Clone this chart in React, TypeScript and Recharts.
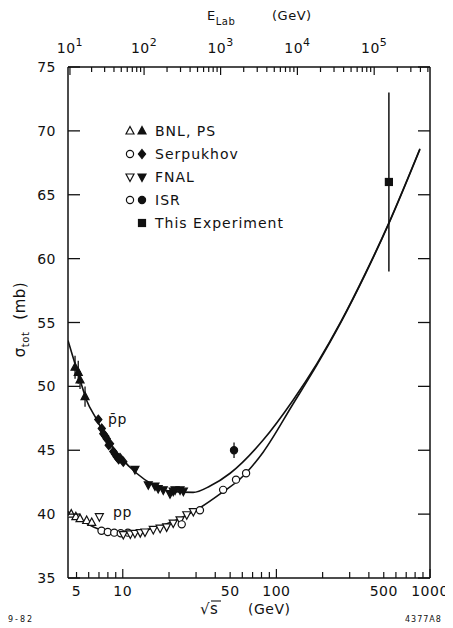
import React from "react";
import {
  ComposedChart,
  Line,
  Scatter,
  XAxis,
  YAxis,
  ErrorBar,
  Legend,
  Label,
} from "recharts";

const FONT = '"DejaVu Sans", "Liberation Sans", sans-serif';
const INK = "#111";
const M_P = 0.938272;

// sqrt(s) for a fixed-target beam of lab energy E (GeV)
const sqrtS = (eLab: number) => Math.sqrt(2 * M_P * (eLab + M_P));
const eLabOf = (rootS: number) => (rootS * rootS) / (2 * M_P) - M_P;

// ---- axes ----
const xDomain: [number, number] = [4.4, 1000];
const yDomain: [number, number] = [35, 75];
const yTicks = [35, 40, 45, 50, 55, 60, 65, 70, 75];
const bottomTicks = [
  5, 6, 7, 8, 9, 10, 20, 30, 40, 50, 60, 70, 80, 90, 100, 200, 300, 400, 500,
  600, 700, 800, 900, 1000,
];
const bottomLabels = [5, 10, 50, 100, 500, 1000];
const elabDecades = [10, 100, 1000, 10000, 100000];
const elabMantissas = [1, 2, 3, 4, 5, 6, 7, 8, 9];
const topTicks = elabDecades
  .flatMap((d) => elabMantissas.map((m) => m * d))
  .map(sqrtS)
  .filter((v) => v <= xDomain[1]);

// ---- fitted curves (sqrt s in GeV, sigma_tot in mb) ----
const pbarpFit = [
  { s: 4.4, sigma: 53.6 },
  { s: 5.27, sigma: 50.5 },
  { s: 5.82, sigma: 48.9 },
  { s: 6.77, sigma: 47.4 },
  { s: 7.86, sigma: 45.9 },
  { s: 9.6, sigma: 44.5 },
  { s: 12.3, sigma: 43.2 },
  { s: 15.7, sigma: 42.3 },
  { s: 20.3, sigma: 41.8 },
  { s: 28.7, sigma: 41.7 },
  { s: 37, sigma: 42.2 },
  { s: 50, sigma: 43.2 },
  { s: 82, sigma: 45.8 },
  { s: 128, sigma: 48.9 },
  { s: 184, sigma: 51.8 },
  { s: 264, sigma: 55.1 },
  { s: 378, sigma: 58.8 },
  { s: 540, sigma: 62.8 },
  { s: 860, sigma: 68.6 },
];

const ppFit = [
  { s: 4.4, sigma: 40.2 },
  { s: 7.11, sigma: 38.8 },
  { s: 10.6, sigma: 38.5 },
  { s: 15.7, sigma: 38.9 },
  { s: 22.4, sigma: 39.55 },
  { s: 31.8, sigma: 40.5 },
  { s: 45, sigma: 41.75 },
  { s: 58, sigma: 42.75 },
  { s: 82, sigma: 44.85 },
  { s: 128, sigma: 48.6 },
  { s: 184, sigma: 51.7 },
  { s: 264, sigma: 55.05 },
  { s: 378, sigma: 58.75 },
  { s: 540, sigma: 62.75 },
  { s: 860, sigma: 68.55 },
];

// ---- measurements ----
const bnlPbarP = [
  { s: 4.89, sigma: 51.5, err: 0.9 },
  { s: 5.13, sigma: 51.1, err: 0.9 },
  { s: 5.27, sigma: 50.5, err: 0.7 },
  { s: 5.68, sigma: 49.2, err: 0.8 },
];
const serpPbarP = [
  { s: 6.93, sigma: 47.4 },
  { s: 7.3, sigma: 46.7 },
  { s: 7.47, sigma: 46.3 },
  { s: 7.7, sigma: 46.1 },
  { s: 7.86, sigma: 45.9 },
  { s: 8.1, sigma: 45.4 },
  { s: 8.26, sigma: 45.5 },
  { s: 8.68, sigma: 44.9 },
  { s: 8.9, sigma: 44.7 },
  { s: 9.13, sigma: 44.5 },
  { s: 9.4, sigma: 44.3 },
  { s: 9.59, sigma: 44.4 },
  { s: 10.08, sigma: 44.1 },
];
const fnalPbarP = [
  { s: 12.0, sigma: 43.5 },
  { s: 14.66, sigma: 42.3 },
  { s: 16.2, sigma: 42.2 },
  { s: 17.0, sigma: 42.0 },
  { s: 18.35, sigma: 41.9 },
  { s: 20.3, sigma: 41.6 },
  { s: 21.3, sigma: 41.8 },
  { s: 21.9, sigma: 41.9 },
  { s: 23.6, sigma: 41.9 },
  { s: 24.8, sigma: 41.8 },
];
const isrPbarP = [{ s: 53, sigma: 45.0, err: 0.6 }];
const thisExperiment = [{ s: 540, sigma: 66.0, err: 7.0 }];

const bnlPP = [
  { s: 4.62, sigma: 40.0 },
  { s: 4.95, sigma: 39.8 },
  { s: 5.27, sigma: 39.65 },
  { s: 5.82, sigma: 39.5 },
  { s: 6.28, sigma: 39.35 },
];
const serpPP = [
  { s: 7.27, sigma: 38.7 },
  { s: 7.99, sigma: 38.6 },
  { s: 8.8, sigma: 38.55 },
  { s: 9.7, sigma: 38.5 },
  { s: 10.8, sigma: 38.55 },
];
const fnalPP = [
  { s: 7.04, sigma: 39.8 },
  { s: 10.08, sigma: 38.4 },
  { s: 11.2, sigma: 38.45 },
  { s: 12.0, sigma: 38.5 },
  { s: 13.0, sigma: 38.55 },
  { s: 13.95, sigma: 38.6 },
  { s: 15.8, sigma: 38.8 },
  { s: 17.5, sigma: 38.9 },
  { s: 19.3, sigma: 39.0 },
  { s: 21.3, sigma: 39.3 },
  { s: 23.6, sigma: 39.55 },
  { s: 26.1, sigma: 39.95 },
  { s: 28.8, sigma: 40.2 },
];
const isrPP = [
  { s: 24.2, sigma: 39.2 },
  { s: 31.8, sigma: 40.3 },
  { s: 45, sigma: 41.9 },
  { s: 54.6, sigma: 42.7 },
  { s: 63.5, sigma: 43.2 },
];

// ---- marker shapes ----
type Kind = "up" | "down" | "diamond" | "circle" | "square";
const drawMarker = (kind: Kind, filled: boolean, cx: number, cy: number) => {
  const st = {
    fill: filled ? INK : "#fff",
    stroke: INK,
    strokeWidth: 1.2,
  };
  switch (kind) {
    case "up":
      return (
        <polygon
          points={`${cx},${cy - 4.5} ${cx + 4},${cy + 3} ${cx - 4},${cy + 3}`}
          {...st}
        />
      );
    case "down":
      return (
        <polygon
          points={`${cx},${cy + 4.5} ${cx + 4},${cy - 3} ${cx - 4},${cy - 3}`}
          {...st}
        />
      );
    case "diamond":
      return (
        <polygon
          points={`${cx},${cy - 4.5} ${cx + 3.6},${cy} ${cx},${cy + 4.5} ${cx - 3.6},${cy}`}
          {...st}
        />
      );
    case "circle":
      return <circle cx={cx} cy={cy} r={3.6} {...st} />;
    case "square":
      return <rect x={cx - 3.5} y={cy - 3.5} width={7} height={7} {...st} />;
  }
};
const shape =
  (kind: Kind, filled: boolean) =>
  (p: { cx?: number; cy?: number }) =>
    <g>{drawMarker(kind, filled, p.cx ?? 0, p.cy ?? 0)}</g>;

// ---- legend ----
const legendRows: { open?: Kind; filled: Kind; text: string }[] = [
  { open: "up", filled: "up", text: "BNL, PS" },
  { open: "circle", filled: "diamond", text: "Serpukhov" },
  { open: "down", filled: "down", text: "FNAL" },
  { open: "circle", filled: "circle", text: "ISR" },
  { filled: "square", text: "This Experiment" },
];

const LegendBox = () => (
  <svg width={200} height={120} style={{ display: "block" }}>
    {legendRows.map((r, i) => {
      const cy = 12 + i * 23;
      return (
        <g key={r.text}>
          {r.open && drawMarker(r.open, false, 10, cy)}
          {drawMarker(r.filled, true, 22, cy)}
          <text
            x={35}
            y={cy + 5}
            fontSize={14}
            fontFamily={FONT}
            letterSpacing={1}
            fill={INK}
          >
            {r.text}
          </text>
        </g>
      );
    })}
  </svg>
);

// ---- ticks (drawn pointing into the frame) ----
const tickText = {
  fontSize: 14,
  fontFamily: FONT,
  fill: INK,
  letterSpacing: 0.5,
};

const LeftTick = (p: any) => {
  const { x, y, payload } = p;
  return (
    <g>
      <line x1={x} x2={x + 12} y1={y} y2={y} stroke={INK} strokeWidth={1.3} />
      <text x={x - 12} y={y + 5} textAnchor="end" {...tickText}>
        {payload.value}
      </text>
    </g>
  );
};

const RightTick = (p: any) => {
  const { x, y } = p;
  return <line x1={x} x2={x - 12} y1={y} y2={y} stroke={INK} strokeWidth={1.3} />;
};

const BottomTick = (p: any) => {
  const { x, y, payload } = p;
  const v = payload.value as number;
  const major = v === 10 || v === 100 || v === 1000;
  return (
    <g>
      <line x1={x} x2={x} y1={y} y2={y - (major ? 9 : 6)} stroke={INK} strokeWidth={1.2} />
      {bottomLabels.includes(v) && (
        <text x={x} y={y + 18} textAnchor="middle" {...tickText}>
          {v}
        </text>
      )}
    </g>
  );
};

const TopTick = (p: any) => {
  const { x, y, payload } = p;
  const e = eLabOf(payload.value as number);
  const exp = Math.log10(e);
  const major = Math.abs(exp - Math.round(exp)) < 0.01;
  return (
    <g>
      <line x1={x} x2={x} y1={y} y2={y + (major ? 8 : 5)} stroke={INK} strokeWidth={1.2} />
      {major && (
        <text x={x} y={y - 14} textAnchor="middle" {...tickText}>
          10
          <tspan fontSize={11} dy={-7}>
            {Math.round(exp)}
          </tspan>
        </text>
      )}
    </g>
  );
};

// ---- axis titles ----
const YTitle = (p: any) => {
  const vb = p.viewBox;
  const cx = vb.x + 17;
  const cy = vb.y + vb.height / 2 - 3;
  return (
    <text
      transform={`translate(${cx},${cy}) rotate(-90)`}
      textAnchor="middle"
      fontSize={15}
      fontFamily={FONT}
      fill={INK}
      letterSpacing={0.5}
    >
      σ
      <tspan fontSize={10} dy={4}>
        tot
      </tspan>
      <tspan dy={-4} dx={12}>
        (mb)
      </tspan>
    </text>
  );
};

const TopTitle = (p: any) => {
  const vb = p.viewBox;
  const x0 = vb.x + 139;
  const base = vb.y + 12;
  return (
    <g fontFamily={FONT} fill={INK} letterSpacing={0.5}>
      <text x={x0} y={base} fontSize={13}>
        E
        <tspan fontSize={10} dy={5}>
          Lab
        </tspan>
      </text>
      <text x={vb.x + 204} y={base} fontSize={13}>
        (GeV)
      </text>
    </g>
  );
};

const BottomTitle = (p: any) => {
  const vb = p.viewBox;
  const x0 = vb.x + 132;
  const base = vb.y + 36;
  return (
    <g fontFamily={FONT} fill={INK} letterSpacing={0.5}>
      <text x={x0} y={base} fontSize={15}>
        √s
      </text>
      <line x1={x0 + 11} x2={x0 + 21} y1={base - 13} y2={base - 13} stroke={INK} strokeWidth={1.1} />
      <text x={x0 + 48} y={base} fontSize={14}>
        (GeV)
      </text>
    </g>
  );
};

const axisLine = { stroke: INK, strokeWidth: 1.5 };

export default function App() {
  return (
    <div style={{ position: "relative", width: 445, height: 620, fontFamily: FONT }}>
      <ComposedChart
        width={445}
        height={612}
        margin={{ top: 0, right: 0, bottom: 0, left: 0 }}
      >
        <XAxis
          xAxisId="b"
          orientation="bottom"
          dataKey="s"
          type="number"
          scale="log"
          domain={xDomain}
          allowDataOverflow
          ticks={bottomTicks}
          interval={0}
          tick={<BottomTick />}
          tickLine={false}
          tickSize={0}
          tickMargin={0}
          axisLine={axisLine}
          height={42}
        >
          <Label content={<BottomTitle />} />
        </XAxis>
        <XAxis
          xAxisId="t"
          orientation="top"
          dataKey="s"
          type="number"
          scale="log"
          domain={xDomain}
          allowDataOverflow
          ticks={topTicks}
          interval={0}
          tick={<TopTick />}
          tickLine={false}
          tickSize={0}
          tickMargin={0}
          axisLine={axisLine}
          height={59}
        >
          <Label content={<TopTitle />} />
        </XAxis>
        <YAxis
          yAxisId="l"
          orientation="left"
          dataKey="sigma"
          type="number"
          domain={yDomain}
          allowDataOverflow
          ticks={yTicks}
          interval={0}
          tick={<LeftTick />}
          tickLine={false}
          tickSize={0}
          tickMargin={0}
          axisLine={axisLine}
          width={60}
        >
          <Label content={<YTitle />} />
        </YAxis>
        <YAxis
          yAxisId="r"
          orientation="right"
          dataKey="sigma"
          type="number"
          domain={yDomain}
          allowDataOverflow
          ticks={yTicks}
          interval={0}
          tick={<RightTick />}
          tickLine={false}
          tickSize={0}
          tickMargin={0}
          axisLine={axisLine}
          width={23}
        />

        <Line
          xAxisId="b"
          yAxisId="l"
          data={pbarpFit}
          dataKey="sigma"
          type="monotone"
          stroke={INK}
          strokeWidth={1.6}
          dot={false}
          isAnimationActive={false}
        />
        <Line
          xAxisId="b"
          yAxisId="l"
          data={ppFit}
          dataKey="sigma"
          type="monotone"
          stroke={INK}
          strokeWidth={1.6}
          dot={false}
          isAnimationActive={false}
        />

        <Scatter xAxisId="b" yAxisId="l" data={bnlPP} dataKey="sigma" shape={shape("up", false)} isAnimationActive={false} />
        <Scatter xAxisId="b" yAxisId="l" data={serpPP} dataKey="sigma" shape={shape("circle", false)} isAnimationActive={false} />
        <Scatter xAxisId="b" yAxisId="l" data={fnalPP} dataKey="sigma" shape={shape("down", false)} isAnimationActive={false} />
        <Scatter xAxisId="b" yAxisId="l" data={isrPP} dataKey="sigma" shape={shape("circle", false)} isAnimationActive={false} />

        <Scatter xAxisId="b" yAxisId="l" data={bnlPbarP} dataKey="sigma" shape={shape("up", true)} isAnimationActive={false}>
          <ErrorBar dataKey="err" direction="y" width={0} stroke={INK} strokeWidth={1.3} />
        </Scatter>
        <Scatter xAxisId="b" yAxisId="l" data={serpPbarP} dataKey="sigma" shape={shape("diamond", true)} isAnimationActive={false} />
        <Scatter xAxisId="b" yAxisId="l" data={fnalPbarP} dataKey="sigma" shape={shape("down", true)} isAnimationActive={false} />
        <Scatter xAxisId="b" yAxisId="l" data={isrPbarP} dataKey="sigma" shape={shape("circle", true)} isAnimationActive={false}>
          <ErrorBar dataKey="err" direction="y" width={0} stroke={INK} strokeWidth={1.3} />
        </Scatter>
        <Scatter xAxisId="b" yAxisId="l" data={thisExperiment} dataKey="sigma" shape={shape("square", true)} isAnimationActive={false}>
          <ErrorBar dataKey="err" direction="y" width={0} stroke={INK} strokeWidth={1.5} />
        </Scatter>

        <Legend
          layout="vertical"
          align="center"
          verticalAlign="middle"
          content={<LegendBox />}
          wrapperStyle={{ left: 112, top: 111, width: 200 }}
        />
      </ComposedChart>

      {/* curve labels */}
      <div style={{ position: "absolute", left: 0, top: 0, pointerEvents: "none" }}>
        <svg width={445} height={612} style={{ position: "absolute", left: 0, top: 0 }}>
          <text x={100} y={416} fontSize={14} fontFamily={FONT} fill={INK} letterSpacing={0.5}>
            p̄p
          </text>
          <text x={105} y={509} fontSize={14} fontFamily={FONT} fill={INK} letterSpacing={0.5}>
            pp
          </text>
        </svg>
      </div>

      <span
        style={{
          position: "absolute",
          left: 0,
          top: 607,
          fontSize: 8,
          letterSpacing: 2,
          color: INK,
        }}
      >
        9-82
      </span>
      <span
        style={{
          position: "absolute",
          left: 397,
          top: 607,
          fontSize: 8,
          letterSpacing: 1,
          color: INK,
        }}
      >
        4377A8
      </span>
    </div>
  );
}
